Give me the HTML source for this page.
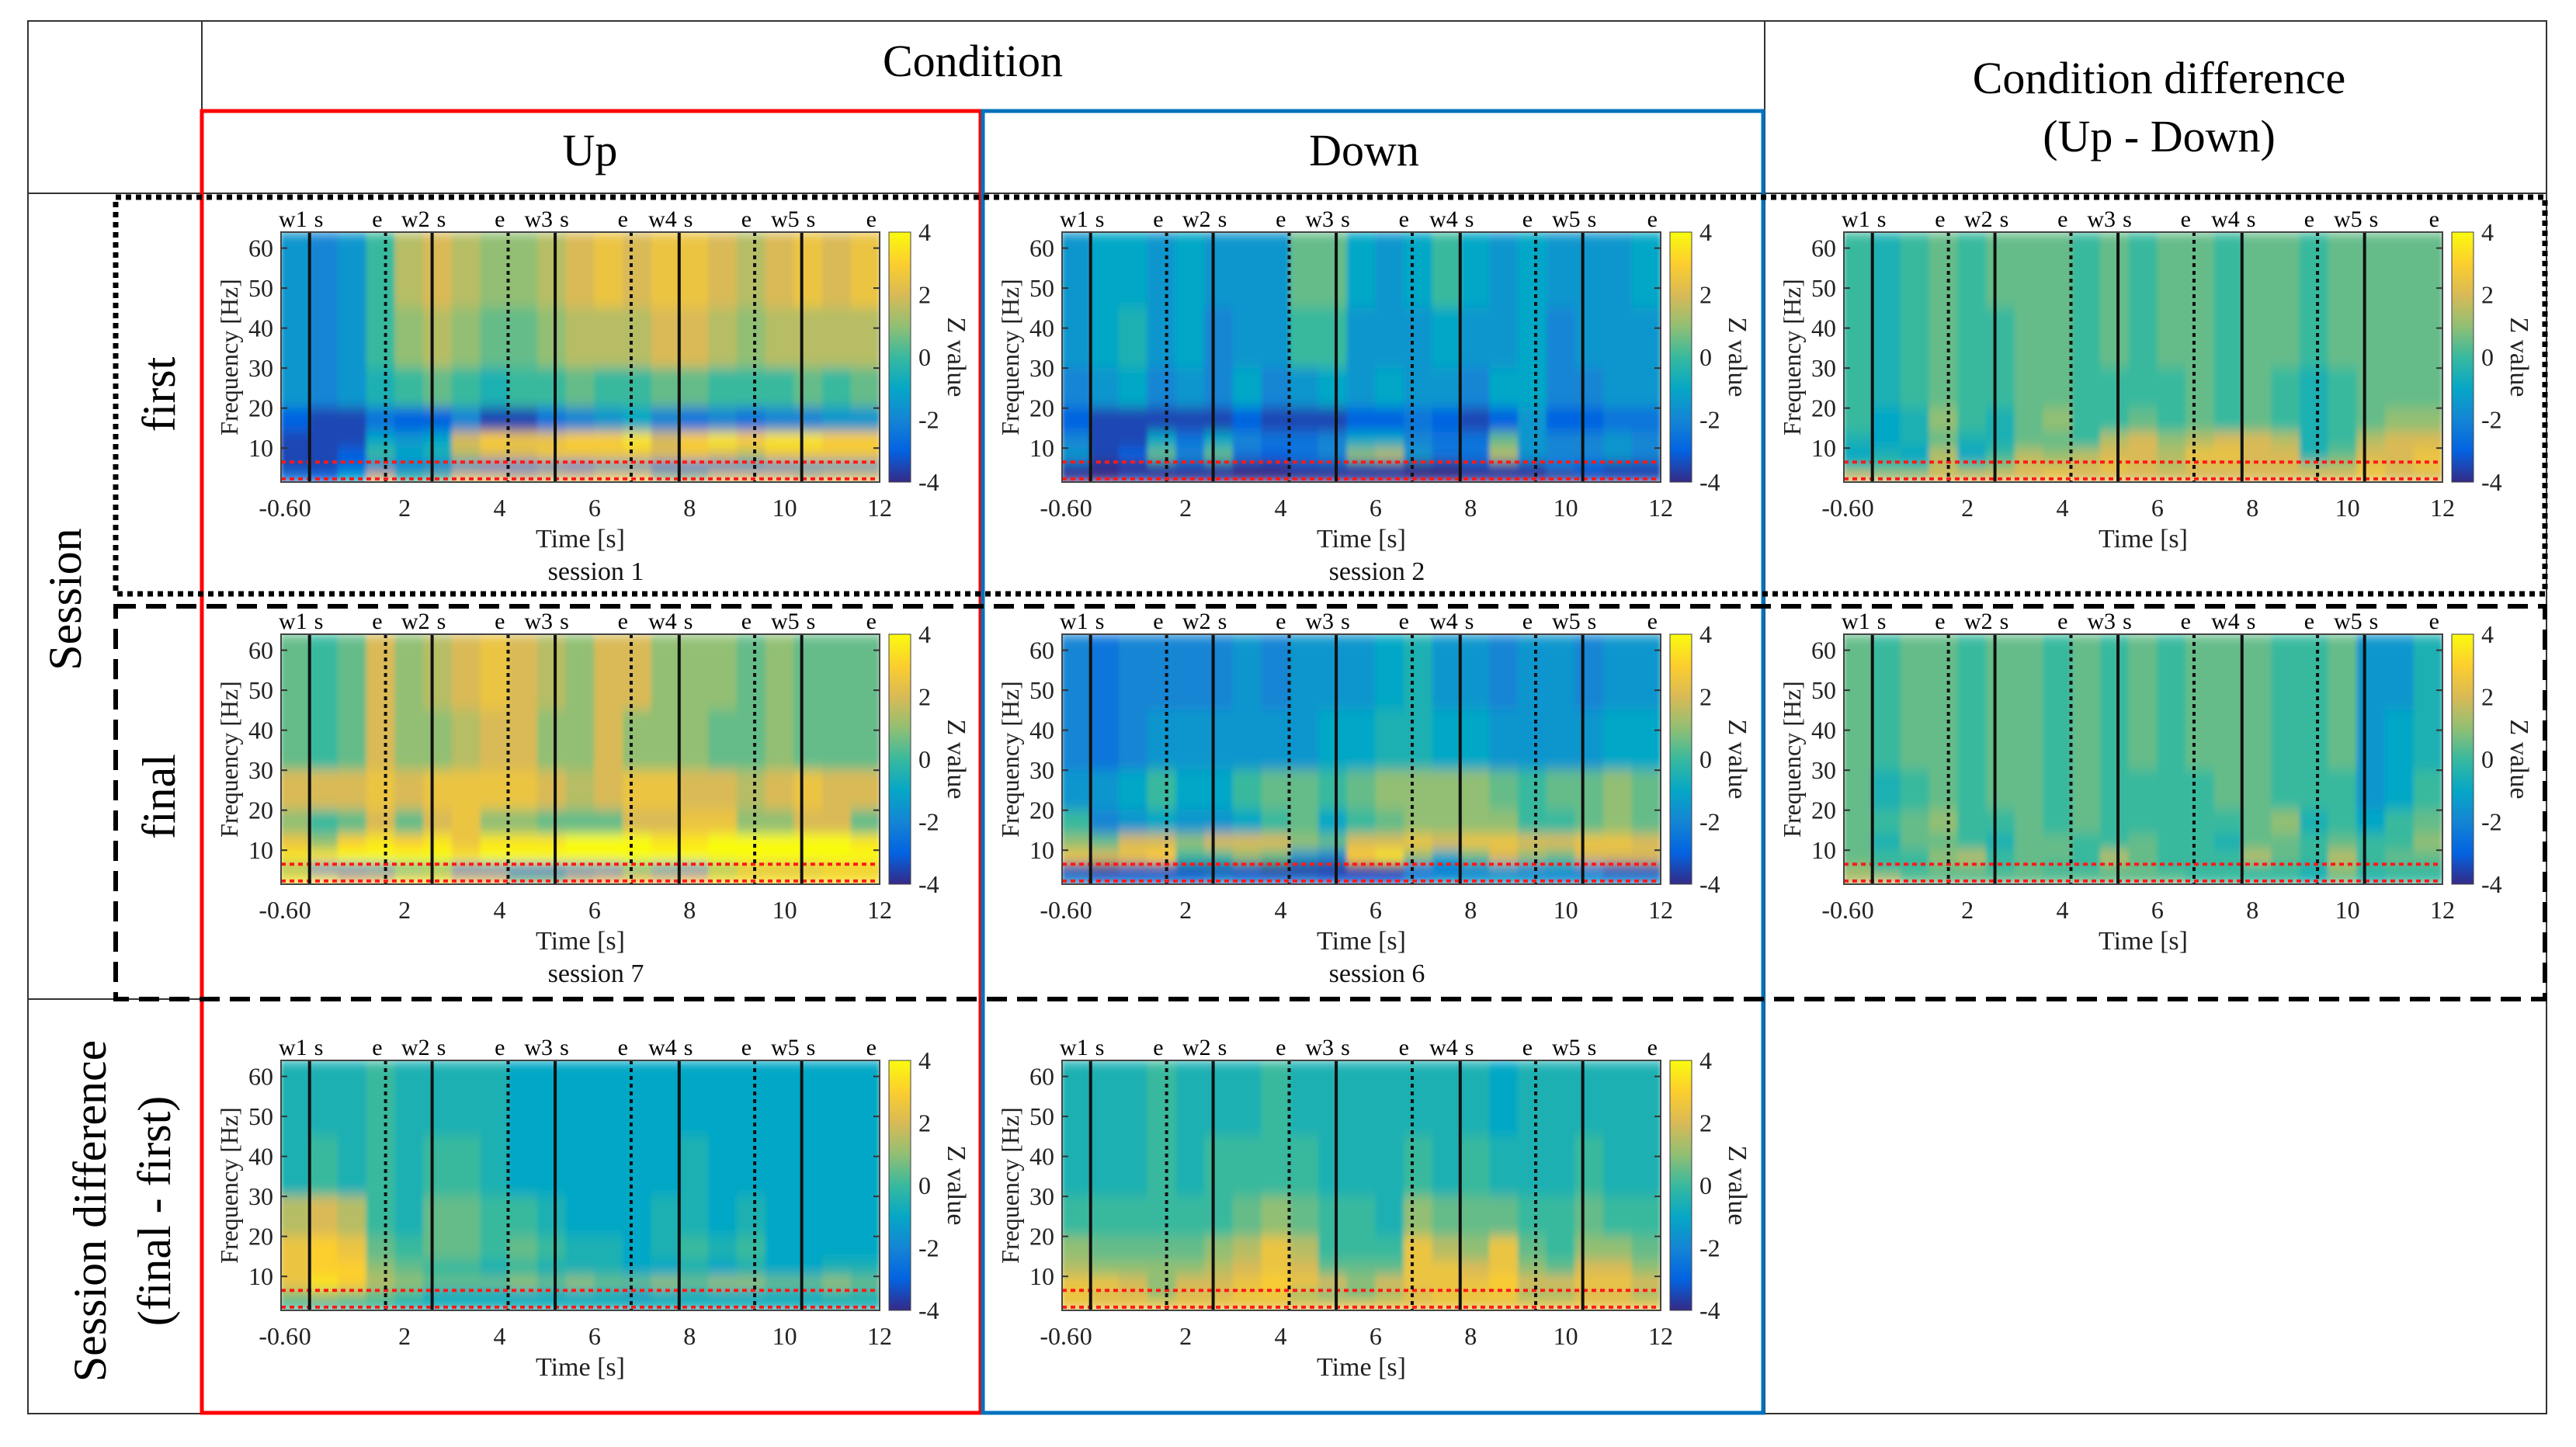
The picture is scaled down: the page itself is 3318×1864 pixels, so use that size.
<!DOCTYPE html>
<html><head><meta charset="utf-8"><style>
html,body{margin:0;padding:0;background:#fff;}
svg{display:block;font-family:"Liberation Serif",serif;}
</style></head><body>
<svg id="fig" width="3318" height="1864" viewBox="0 0 3318 1864" xmlns="http://www.w3.org/2000/svg">
<defs>
<linearGradient id="parula" x1="0" y1="1" x2="0" y2="0">
<stop offset="0" stop-color="#352a87"/><stop offset="0.125" stop-color="#0363e1"/><stop offset="0.25" stop-color="#1485d4"/><stop offset="0.375" stop-color="#06a7c6"/><stop offset="0.5" stop-color="#38b99e"/><stop offset="0.625" stop-color="#92bf73"/><stop offset="0.75" stop-color="#d9ba56"/><stop offset="0.875" stop-color="#fcce2e"/><stop offset="1" stop-color="#f9fb0e"/>
</linearGradient>
<filter id="blur" x="0" y="0" width="1" height="1"><feGaussianBlur stdDeviation="3 8" edgeMode="duplicate"/></filter>
</defs>
<g>
<rect x="36" y="27" width="3244" height="1794" fill="none" stroke="#333" stroke-width="2"/>
<line x1="36" y1="249" x2="3280" y2="249" stroke="#333" stroke-width="2"/>
<line x1="260" y1="27" x2="260" y2="1821" stroke="#333" stroke-width="2"/>
<line x1="2273" y1="27" x2="2273" y2="1821" stroke="#333" stroke-width="2"/>
<line x1="36" y1="1287" x2="260" y2="1287" stroke="#333" stroke-width="2"/>
</g>
<rect x="260" y="143" width="1003" height="1677" fill="none" stroke="#ff0000" stroke-width="5"/>
<rect x="1266" y="143" width="1005" height="1677" fill="none" stroke="#0072bd" stroke-width="5"/>
<rect x="149" y="254" width="3129" height="511" fill="none" stroke="#000" stroke-width="7" stroke-dasharray="7 6"/>
<rect x="149" y="781" width="3129" height="506" fill="none" stroke="#000" stroke-width="6" stroke-dasharray="26 13"/>
<text x="1253" y="98" font-size="58" text-anchor="middle">Condition</text>
<text x="760" y="213" font-size="58" text-anchor="middle">Up</text>
<text x="1757" y="213" font-size="58" text-anchor="middle">Down</text>
<text x="2781" y="120" font-size="58" text-anchor="middle">Condition difference</text>
<text x="2781" y="195" font-size="58" text-anchor="middle">(Up - Down)</text>
<text transform="translate(104,772) rotate(-90)" font-size="60" text-anchor="middle">Session</text>
<text transform="translate(225,508) rotate(-90)" font-size="60" text-anchor="middle">first</text>
<text transform="translate(225,1026) rotate(-90)" font-size="60" text-anchor="middle">final</text>
<text transform="translate(136,1560) rotate(-90)" font-size="60" text-anchor="middle">Session difference</text>
<text transform="translate(219,1560) rotate(-90)" font-size="60" text-anchor="middle">(final - first)</text>
<g id="panels"></g>
</svg>
<script>
// frequency bin edges (Hz), rows top->bottom: 45-64,30-45,20-30,14-20,10-14,6.5-10,4-6.5,1.5-4
const freqEdges = [64,45,30,20,14,10,6.5,4,1.5];
const timeStart = -0.6, timeBin = 0.6;
const xTickValues = [2,4,6,8,10,12];
const yTickValues = [10,20,30,40,50,60];
const cbarTicks = [4,2,0,-2,-4];
const solidEvents = [0,2.58,5.17,7.78,10.36];
const dottedEvents = [1.6,4.18,6.77,9.37];
const eventLabelsW = ["w1","w2","w3","w4","w5"];
const redLines = [6.5,2.3];

const up1 = [
[-1.5,-2,-1.5,0,1.5,2,1.5,1,1,1.5,2,2.5,2,2.5,2.5,2,1.5,2,2.5,2,2.5],
[-1.5,-2,-1.5,0,1,1.5,1,0.5,0.5,1,1.5,1.5,1.5,2,2,1.5,1,1.5,1.5,1.5,1.5],
[-1.5,-2,-1.5,-0.5,0,0.5,0,-0.5,0,0,0.5,0,0,0.5,0.5,0,0,0,0.5,0,0.5],
[-3,-3.5,-3.5,-2.5,-3,-3,-2,-3.5,-3.5,-2.5,-2,-1.5,-1,-2,-2.5,-2,-2.5,-2,-2,-1.5,-1.5],
[-3.5,-3.5,-3.5,-1,-1.5,-1,2,3,2.5,2.5,3,3,3.5,2,3,3.5,3,3.5,3.5,3,3],
[-3.5,-3.5,-3,0,-1,-0.5,1.5,2,2,2.5,2.5,2.5,2.5,2,2.5,2,1.5,2.5,2.5,2.5,2.5],
[-3.5,-3.5,-3,-2.5,-2.5,-2.5,-2,-2.5,-2.5,-2,-2.5,-1.5,-1.5,-2.5,-2.5,-2,-2,-2,-1.5,-1.5,-1.5],
[-2.5,-3,-1,2,0,0.5,2.5,2.5,2,2.5,2.5,3,3,1.5,1.5,2.5,2.5,2.5,2,2.5,2.5]];
const down2 = [
[-1.5,-1,-1,-1.5,-1,-1.5,-1.5,-1.5,0.5,0.5,-1,-1.5,-1,0,-1,-1.5,-1,-1.5,-1.5,-1.5,-1],
[-1.5,-1,-0.5,-1.5,-1,-2,-1.5,-1.5,0,0,-1.5,-1.5,-1.5,-1,-1.5,-1.5,-1,-2,-1.5,-1.5,-1.5],
[-2,-1.5,-1,-2,-1.5,-2,-1,-2,-1.5,-1,-1.5,-1,-1.5,-1.5,-2,-1,-1,-2,-2,-1.5,-1.5],
[-3,-3.5,-3.5,-3.5,-3.5,-3.5,-3,-3.5,-3.5,-3.5,-3,-3,-2.5,-3,-3.5,-3,-1.5,-3,-3,-2.5,-2.5],
[-2,-3.5,-3.5,-1,-2.5,-1,-2,-2.5,-2.5,-2,-1,-1,-2,-2.5,-2.5,0.5,-1.5,-2,-2,-1.5,-2],
[-1.5,-3.5,-3,0.5,-2,0.5,-2.5,-3,-2.5,-2,1,1.5,-1.5,-2.5,-2.5,1.5,-1.5,-2,-2,-1.5,-2],
[-3.5,-4,-4,-3.5,-3.5,-3.5,-4,-4,-3.5,-3.5,-3.5,-3.5,-4,-4,-3.5,-3.5,-3.5,-2.5,-3,-3.5,-3.5],
[-4,-4,-3.5,-4,-4,-4,-4,-4,-4,-4,-4,-4,-4,-4,-4,-4,-4,-4,-3.5,-3.5,-3.5]];
const diffFirst = [
[0,-0.5,0,0.5,0,0.5,0.5,0.5,0,0.5,0,0.5,0.5,0,0.5,0.5,0,0.5,0.5,0.5,0.5],
[0,-0.5,0,0.5,0,0,0.5,0.5,0,0.5,0,0.5,0.5,0,0.5,0.5,0,0.5,0.5,0.5,0.5],
[0,-0.5,0,0.5,0,0,0.5,0.5,0,0,0,0,0.5,0,0.5,0,-0.5,0,0.5,0.5,0.5],
[0,-1,-0.5,1,0,-0.5,0.5,1,0,0,0.5,0,0.5,0,0.5,0,-0.5,0,0.5,1,1],
[-0.5,-1,-0.5,0.5,-0.5,-0.5,0.5,0.5,0,1.5,2,1,1.5,2,2,1.5,-0.5,0,1.5,2,2],
[-1,-0.5,-1,1.5,-1,0,1.5,1,1.5,2,2,1.5,2.5,2.5,2,2,-0.5,0.5,2,2,2.5],
[0,0,0,1.5,0.5,1,2,2,2,2.5,2,1.5,2,2,2,2,1.5,1.5,2.5,2,2.5],
[2,1.5,1.5,2,2,2,2,2.5,2,2,2,2,2,2,2,2,2,2,2.5,2,2]];
const up7 = [
[0.5,0,0.5,2,1,1.5,2,2.5,2,1.5,1,2,2,1,1,1,0.5,1,0.5,0.5,0.5],
[0.5,0,0.5,2,1,1,1.5,2,2,1,1,2,1,1,1,0.5,0.5,1,0.5,0.5,0.5],
[2,2,2,2.5,2,2.5,2.5,2.5,2.5,2,1.5,2,2.5,2.5,2,2,1.5,2,2.5,2,2],
[1,0,0.5,2,0.5,2,2.5,1,1,0.5,0.5,0.5,2,2,2.5,2.5,1,1,2,2,0.5],
[2.5,1,3,3.5,3,3.5,2.5,3.5,3.5,3.5,4,4,4,3.5,3.5,4,4,4,4,4,3.5],
[3.5,3.5,4,4,4,4,3.5,4,4,4,4,4,4,4,4,4,4,4,4,4,4],
[1,-2,-2,-1.5,0,0.5,-2,-2,-2.5,-2.5,-2,-2,0,-1.5,-2,1,2,2,2,2.5,2.5],
[3.5,3.5,2.5,2.5,3.5,3.5,2.5,2.5,1,1,2,2.5,3,2.5,3,3.5,3.5,3.5,3.5,3.5,3.5]];
const down6 = [
[-2,-2.5,-2,-2,-2,-2,-1.5,-2,-1.5,-1.5,-1.5,-1,-0.5,-1.5,-1.5,-2,-1.5,-1.5,-2,-1.5,-1.5],
[-2,-2.5,-2,-1.5,-1.5,-1.5,-1.5,-1.5,-1.5,-1,-1,-0.5,-0.5,-1,-1,-1.5,-1.5,-1.5,-1.5,-1,-1],
[-1.5,-1.5,-1,0,-1,-1,0,0.5,0.5,0,0.5,1,1,1,1,0.5,0,0.5,0.5,1,0.5],
[0,-2,-1.5,-1,-1.5,-1.5,-1,0,0.5,-1,0,0.5,1,1,1,1,0,0,0.5,1,0.5],
[1,0.5,2,2,1,2,2,2,1,0.5,2,2,2.5,2,2.5,2.5,2,2,2.5,2.5,2],
[2.5,2,2.5,3,0,0,1,0.5,-1.5,-2,3,3.5,1,-1,0.5,2,1,0.5,2,2,2],
[-3.5,-4,-3.5,-3.5,-3.5,-3.5,-3.5,-4,-4,-4,-4,-4,-2.5,-2.5,-2,-1.5,-2,-1.5,-2.5,-3.5,-3.5],
[-2,-2.5,-2.5,-2.5,-2.5,-2,-2.5,-2.5,-2.5,-3,-3,-3,-2,-1.5,-1.5,-1.5,-1.5,-2,-1.5,-2,-2]];
const diffFinal = [
[0.5,0,0.5,0.5,0,0.5,0.5,0,0.5,0,0.5,0,0.5,0.5,0.5,0,0,0.5,-1.5,-1.5,-0.5],
[0.5,0,0.5,0.5,0,0.5,0.5,0,0.5,0,0.5,0,0.5,0.5,0.5,0,0,0.5,-1.5,-1,-0.5],
[0.5,-0.5,0,0.5,0,0.5,0.5,0,0.5,0,0,0,0,0.5,0.5,0,0,0,-1.5,-1,0],
[0.5,0,0.5,1,0,0,0.5,0,0.5,0,0,0,0,0,0.5,1,-0.5,0,-1,0,0.5],
[0.5,-0.5,0.5,0.5,0,-0.5,0.5,0.5,0,0,0.5,0,0,-0.5,0.5,0.5,0,0.5,0,0,1],
[0.5,0,0,1,1.5,0,0.5,0.5,0,1.5,0.5,0,0,0,1.5,0.5,0,1.5,0,0.5,0.5],
[1,0,0,0.5,0.5,0,0.5,0,0,0.5,0.5,0,0,0,0,0,-0.5,1,0,0,0],
[1.5,1.5,0.5,0.5,0.5,0.5,0.5,0.5,0.5,0.5,0.5,0.5,0,0,0,0,-0.5,0.5,-0.5,0,0]];
const diffUp = [
[-0.5,-0.5,-0.5,0,-0.5,-0.5,-0.5,-0.5,-1,-1,-1,-1,-1,-1,-1,-1,-1,-1,-1,-1,-1],
[-0.5,0,-0.5,0,-0.5,0,0,-0.5,-1,-1,-1,-1,-1,-1,-0.5,-1,-1,-1,-1,-1,-1],
[1.5,2,1.5,0,-0.5,0.5,0.5,0,0,-0.5,-1,-1,-1,-0.5,-0.5,-1,-0.5,-1,-1,-1,-1],
[2.5,3,2.5,0.5,0,0.5,0.5,0,0.5,0,-0.5,-0.5,-1,-0.5,0,-0.5,0,-1,-1,-1,-1],
[2.5,3,3,1,0.5,0,0,-0.5,0,-0.5,-0.5,-0.5,-1,-1,-0.5,-1,-0.5,-1,-1,-0.5,-0.5],
[2.5,3.5,3,1.5,1,0.5,0.5,0.5,1,0.5,1,0.5,0.5,1,0.5,1,1,0.5,0.5,1,0.5],
[1,1.5,1,0.5,0,-1,-1,-1,-1,-1,-1,-1,-1.5,-1,-1,-1,-1,-1,-1,-0.5,-0.5],
[0,0,0,0,-0.5,-0.5,-0.5,-0.5,-0.5,-0.5,-0.5,-0.5,-0.5,-0.5,-0.5,-0.5,-0.5,-0.5,-0.5,-0.5,-0.5]];
const diffDown = [
[-0.5,-0.5,-0.5,0,-0.5,-0.5,-0.5,0,-0.5,-0.5,-0.5,-0.5,-0.5,-0.5,-0.5,-1,-0.5,-0.5,-0.5,-0.5,-0.5],
[-0.5,-0.5,-0.5,0,-0.5,0,0,0,0,-0.5,-0.5,-0.5,0,-0.5,0,-0.5,-0.5,-0.5,0,-0.5,-0.5],
[0,0,0,0,0,0,0.5,1,0.5,0,0,-0.5,1,0.5,0.5,0.5,0,0,0.5,0,0],
[1,0.5,0.5,0.5,0.5,1,1.5,2.5,1.5,0,0,0,2.5,1.5,1,2.5,0.5,0,1,1,0.5],
[1.5,1,1,1,1,1.5,2,2.5,2,0.5,0.5,0.5,2.5,2.5,2,2.5,1,0.5,2,2,1],
[2.5,2.5,2,1,2,2,2.5,3,2.5,2,1,2,2.5,2.5,2.5,3,2,2,2.5,2.5,2],
[2.5,2,2,1,2,2,2.5,2.5,1,0.5,0.5,1,2,2.5,2.5,2.5,1,1,2,2,1],
[2.5,2.5,2.5,2.5,2.5,2.5,2.5,2.5,2.5,2.5,2.5,2.5,2.5,2.5,2.5,2.5,2.5,2.5,2.5,2.5,2.5]];

const panels = [
 {name:'up-first', row:0, col:0, data:up1, sub:'session 1'},
 {name:'down-first', row:0, col:1, data:down2, sub:'session 2'},
 {name:'diff-first', row:0, col:2, data:diffFirst, sub:''},
 {name:'up-final', row:1, col:0, data:up7, sub:'session 7'},
 {name:'down-final', row:1, col:1, data:down6, sub:'session 6'},
 {name:'diff-final', row:1, col:2, data:diffFinal, sub:''},
 {name:'up-session-diff', row:2, col:0, data:diffUp, sub:''},
 {name:'down-session-diff', row:2, col:1, data:diffDown, sub:''}
];
const rowTops=[299,817,1366], colLefts=[362,1368,2375];
const PW=771, PH=322, T0=-0.6, T1=12, F0=1.5, F1=64;
const stops=[[53,42,135],[3,99,225],[20,133,212],[6,167,198],[56,185,158],[146,191,115],[217,186,86],[252,206,46],[249,251,14]];
function parula(z){let u=Math.max(0,Math.min(1,(z+4)/8))*8;let i=Math.min(7,Math.floor(u)),f=u-i;const a=stops[i],b=stops[i+1];return 'rgb('+a.map((v,k)=>Math.round(v+(b[k]-v)*f)).join(',')+')';}
const NS='http://www.w3.org/2000/svg';
function mk(tag,attrs,parent){const e=document.createElementNS(NS,tag);for(const k in attrs)e.setAttribute(k,attrs[k]);parent.appendChild(e);return e;}
const root=document.getElementById('panels');
panels.forEach((p,pi)=>{
 const L=colLefts[p.col], Tp=rowTops[p.row];
 const xs=t=>L+(t-T0)/(T1-T0)*PW;
 const ys=f=>Tp+(F1-f)/(F1-F0)*PH;
 const g=mk('g',{},root);
 
 
 const cp=mk('clipPath',{id:'cp'+pi},g);
 mk('rect',{x:L,y:Tp,width:PW,height:PH},cp);
 const cg=mk('g',{'clip-path':'url(#cp'+pi+')'},g);
 const hm=mk('g',{filter:'url(#blur)'},cg);
 
 
 p.data.forEach((rowVals,ri)=>{
  const fTop=Math.min(F1,freqEdges[ri]), fBot=Math.max(F0,freqEdges[ri+1]);
  rowVals.forEach((v,ci)=>{
   const t0=timeStart+ci*timeBin;
   const r=mk('rect',{x:xs(t0)-0.5,y:ys(fTop)-0.5,width:xs(t0+timeBin)-xs(t0)+1,height:ys(fBot)-ys(fTop)+1,fill:parula(v)},hm);
   
   
  });
 });
 redLines.forEach(f=>{const l=mk('line',{x1:L,x2:L+PW,y1:ys(f),y2:ys(f),stroke:'#ff1a1a','stroke-width':4,'stroke-dasharray':'6 5'},cg);
  
  });
 solidEvents.forEach((t,i)=>{const l=mk('line',{x1:xs(t),x2:xs(t),y1:Tp,y2:Tp+PH,stroke:'#111','stroke-width':4},g);
  
  
  const a=mk('text',{x:xs(t)-3,y:Tp-7,'font-size':30,'text-anchor':'end'},g);a.textContent=eventLabelsW[i];
  
  
  const b=mk('text',{x:xs(t)+6,y:Tp-7,'font-size':30},g);b.textContent='s';
  
  });
 dottedEvents.concat([12]).forEach(t=>{
  if(t<12){const l=mk('line',{x1:xs(t),x2:xs(t),y1:Tp,y2:Tp+PH,stroke:'#111','stroke-width':4,'stroke-dasharray':'5 5'},g);
   
   }
  const e=mk('text',{x:xs(t)-4,y:Tp-7,'font-size':30,'text-anchor':'end'},g);e.textContent='e';
  
  });
 const fr=mk('rect',{x:L,y:Tp,width:PW,height:PH,fill:'none',stroke:'#444','stroke-width':2},g);
 
 
 yTickValues.forEach(f=>{mk('line',{x1:L,x2:L+8,y1:ys(f),y2:ys(f),stroke:'#333','stroke-width':2},g);
  mk('line',{x1:L+PW-8,x2:L+PW,y1:ys(f),y2:ys(f),stroke:'#333','stroke-width':2},g);
  const tx=mk('text',{x:L-10,y:ys(f)+11,'font-size':32,'text-anchor':'end',fill:'#222'},g);tx.textContent=f;
  
  });
 const x0=mk('text',{x:xs(-0.6)+22,y:Tp+PH+44,'font-size':32,'text-anchor':'end',fill:'#222'},g);x0.textContent='-0.6';
 
 
 const xz=mk('text',{x:xs(0)-6,y:Tp+PH+44,'font-size':32,'text-anchor':'middle',fill:'#222'},g);xz.textContent='0';
 
 
 xTickValues.forEach(t=>{const tx=mk('text',{x:xs(t),y:Tp+PH+44,'font-size':32,'text-anchor':'middle',fill:'#222'},g);tx.textContent=t;
  
  });
 const xt=mk('text',{x:L+PW/2,y:Tp+PH+84,'font-size':34,'text-anchor':'middle',fill:'#222'},g);xt.textContent='Time [s]';
 
 
 const yt=mk('text',{transform:'translate('+(L-56)+','+(Tp+PH/2)+') rotate(-90)','font-size':32,'text-anchor':'middle',fill:'#222'},g);yt.textContent='Frequency [Hz]';
 
 
 if(p.sub){const st=mk('text',{x:L+PW/2+20,y:Tp+PH+126,'font-size':34,'text-anchor':'middle',fill:'#111'},g);st.textContent=p.sub;
  
  }
 const cbx=L+PW+12;
 const cb=mk('rect',{x:cbx,y:Tp,width:28,height:PH,fill:'url(#parula)',stroke:'#444','stroke-width':1},g);
 
 
 cbarTicks.forEach(z=>{const y=Tp+(4-z)/8*PH;const tx=mk('text',{x:cbx+38,y:y+11,'font-size':32,fill:'#222'},g);tx.textContent=z;
  
  });
 const zt=mk('text',{transform:'translate('+(cbx+76)+','+(Tp+PH/2)+') rotate(90)','font-size':34,'text-anchor':'middle',fill:'#222'},g);zt.textContent='Z value';
 
 
});
</script>
</body></html>
